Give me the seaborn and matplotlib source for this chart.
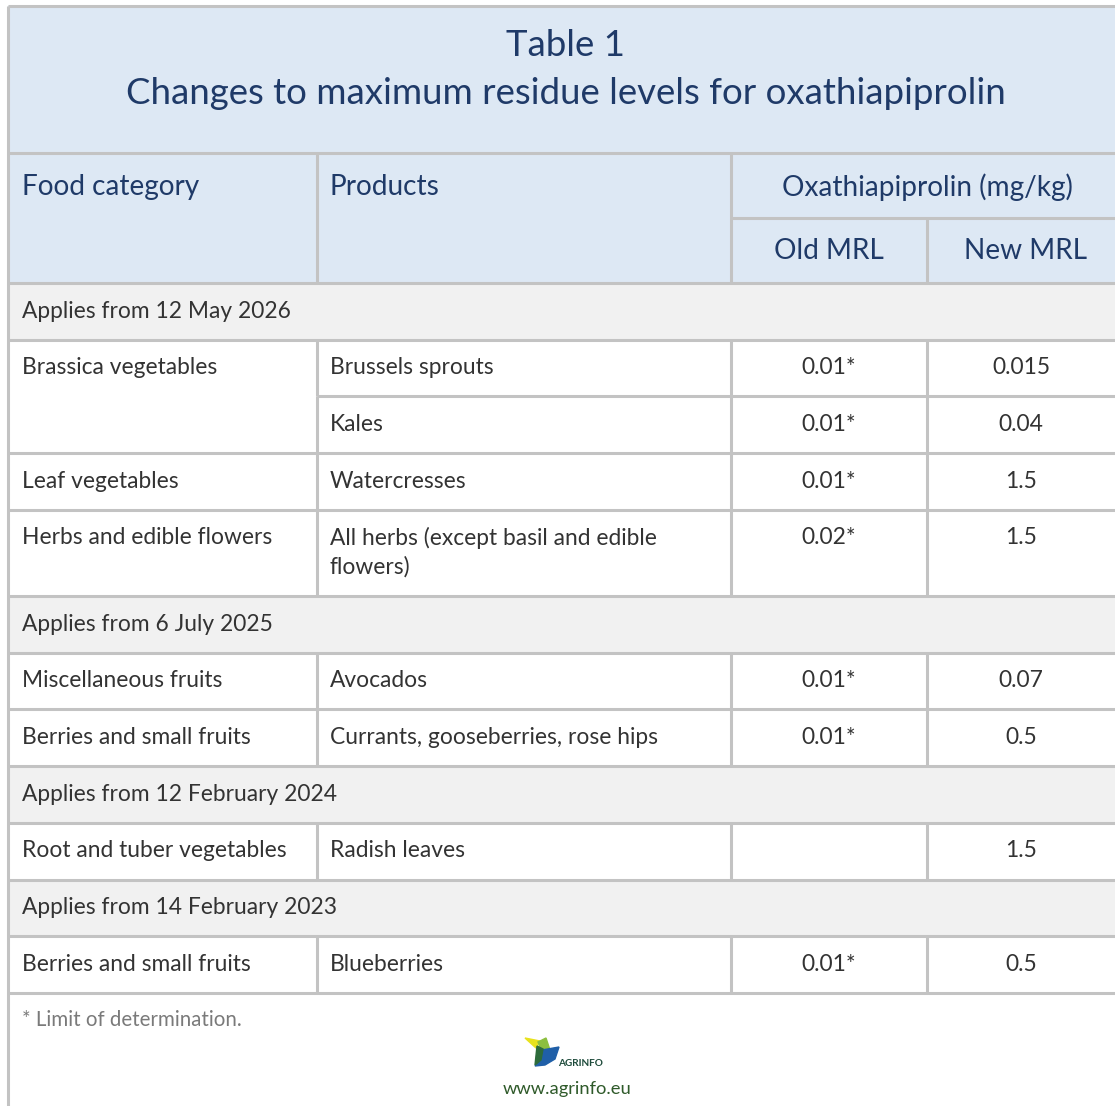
import matplotlib
matplotlib.use("Agg")
import matplotlib.pyplot as plt
from matplotlib.patches import Rectangle, Polygon
import seaborn as sns

# table content
title = "Table 1"
subtitle = "Changes to maximum residue levels for oxathiapiprolin"
col_headers = ["Food category", "Products"]
group_header = "Oxathiapiprolin (mg/kg)"
sub_headers = ["Old MRL", "New MRL"]

section_labels = [
    "Applies from 12 May 2026",
    "Applies from 6 July 2025",
    "Applies from 12 February 2024",
    "Applies from 14 February 2023",
]
row_section = [0, 0, 0, 0, 1, 1, 2, 3]
categories = [
    "Brassica vegetables", "", "Leaf vegetables", "Herbs and edible flowers",
    "Miscellaneous fruits", "Berries and small fruits",
    "Root and tuber vegetables", "Berries and small fruits",
]
products = [
    "Brussels sprouts", "Kales", "Watercresses",
    "All herbs (except basil and edible\nflowers)",
    "Avocados", "Currants, gooseberries, rose hips",
    "Radish leaves", "Blueberries",
]
old_mrl = ["0.01*", "0.01*", "0.01*", "0.02*", "0.01*", "0.01*", "", "0.01*"]
new_mrl = ["0.015", "0.04", "1.5", "1.5", "0.07", "0.5", "1.5", "0.5"]
footnote = "* Limit of determination."
url = "www.agrinfo.eu"

sns.set_theme(style="white")
plt.rcParams["font.family"] = ["Lato", "DejaVu Sans"]

W, H = 1115, 1106
fig = plt.figure(figsize=(W / 100, H / 100), dpi=100)
ax = fig.add_axes([0, 0, 1, 1])
ax.set_xlim(0, W)
ax.set_ylim(H, 0)
ax.axis("off")

line_c = "#c3c3c3"
lw = 2.2
head_bg = "#dde8f4"
sec_bg = "#f1f1f1"
navy = "#1f3a68"
body = "#333333"

L = 8
x1, x2, x3 = 317, 731, 927
R = W + 10
top = 6
head_top = 153
head_mid = 218
head_bot = 283
row_h = 56.7
line_h = 29.5

def hline(y, xa=L, xb=R):
    ax.plot([xa, xb], [y, y], color=line_c, lw=lw, solid_capstyle="butt", zorder=3)

def vline(x, ya, yb):
    ax.plot([x, x], [ya, yb], color=line_c, lw=lw, solid_capstyle="butt", zorder=3)

# header block
hfs = 20.2
ax.add_patch(Rectangle((L, top), R - L, head_bot - top, color=head_bg, zorder=1))
ax.text(566, 45, title, ha="center", va="center", fontsize=26.4, color=navy)
ax.text(566, 94, subtitle, ha="center", va="center", fontsize=26.4, color=navy)
hline(top)
hline(head_top)
hline(head_mid, x2, R)
ax.text(22, 187, col_headers[0], ha="left", va="center", fontsize=hfs, color=navy)
ax.text(330, 187, col_headers[1], ha="left", va="center", fontsize=hfs, color=navy)
ax.text(927, 187, group_header, ha="center", va="center", fontsize=hfs, color=navy)
ax.text((x2 + x3) / 2, 251, sub_headers[0], ha="center", va="center", fontsize=hfs, color=navy)
ax.text(1025, 251, sub_headers[1], ha="center", va="center", fontsize=hfs, color=navy)
vline(x1, head_top, head_bot)
vline(x2, head_top, head_bot)
vline(x3, head_mid, head_bot)

# body rows
y = head_bot
fs = 16.4
last_sec = -1
for i, prod in enumerate(products):
    s = row_section[i]
    if s != last_sec:
        hline(y)
        ax.add_patch(Rectangle((L, y), R - L, row_h, color=sec_bg, zorder=1))
        ax.text(22, y + row_h / 2, section_labels[s], ha="left", va="center",
                fontsize=fs, color=body)
        y += row_h
        hline(y)
        last_sec = s
    elif categories[i] == "":
        hline(y, x1, R)
    else:
        hline(y)
    lines = prod.split("\n")
    h = row_h + (len(lines) - 1) * line_h
    ty = y + 28
    ax.text(22, ty, categories[i], ha="left", va="center", fontsize=fs, color=body)
    for k, part in enumerate(lines):
        ax.text(330, ty + k * line_h, part, ha="left", va="center", fontsize=fs, color=body)
    ax.text((x2 + x3) / 2, ty, old_mrl[i], ha="center", va="center", fontsize=fs, color=body)
    ax.text(1021, ty, new_mrl[i], ha="center", va="center", fontsize=fs, color=body)
    for x in (x1, x2, x3):
        vline(x, y, y + h)
    y += h
hline(y)

# footer
ax.text(22, 1020, footnote, ha="left", va="center", fontsize=14.8, color="#7a7a7a")
ax.add_patch(Polygon([(525, 1038), (540, 1041), (536, 1048)], color="#e8e21c", zorder=4))
ax.add_patch(Polygon([(538, 1042), (546, 1038), (550, 1050), (542, 1052)], color="#8cbf3f", zorder=4))
ax.add_patch(Polygon([(542, 1050), (559, 1047), (555, 1059), (545, 1065), (535, 1066), (542, 1057)],
                     color="#1f5fa8", zorder=4))
ax.add_patch(Polygon([(537, 1046), (543, 1049), (541, 1060), (535, 1065)], color="#2d6b3a", zorder=5))
ax.text(558, 1063, "AGRINFO", ha="left", va="center", fontsize=7.2, fontweight="bold",
        color="#1d4a3a")
ax.text(567, 1089, url, ha="center", va="center", fontsize=13.2, color="#2f5a2a")

vline(L, top, H + 5)

fig.savefig("out.png", dpi=100)
